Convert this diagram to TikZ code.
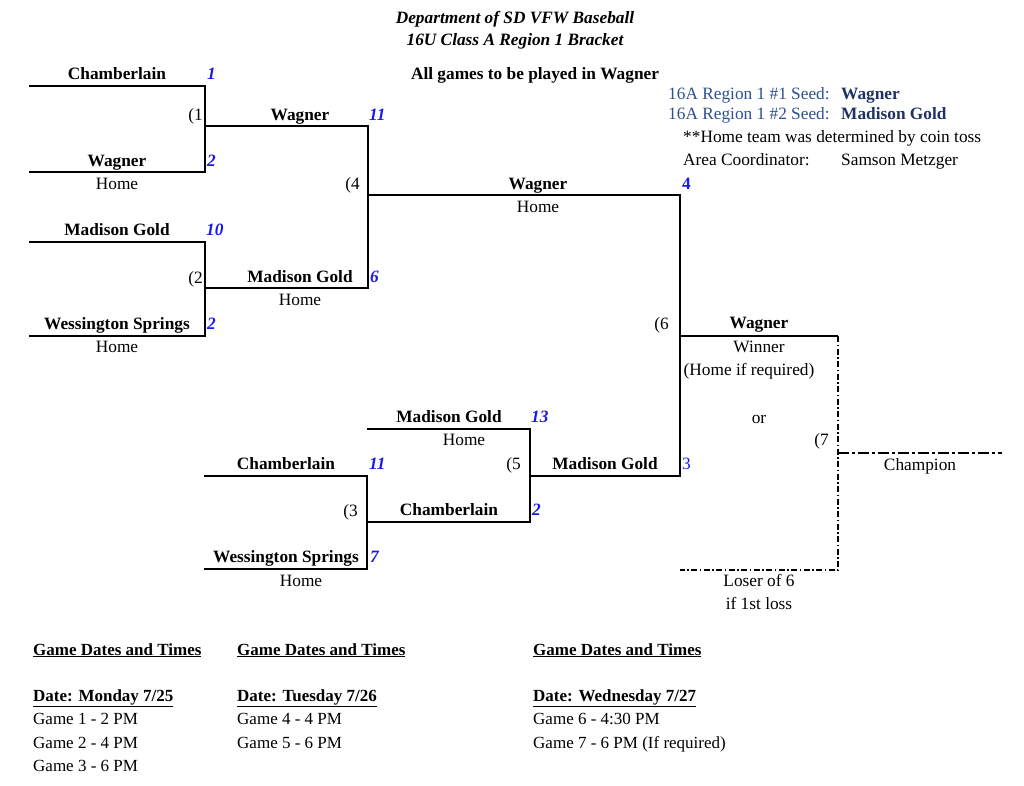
\documentclass[tikz,border=0pt]{standalone}
\usepackage{fontspec}
\setmainfont{Liberation Serif}
\definecolor{numblue}{RGB}{25,25,235}
\definecolor{seedblue}{RGB}{45,80,145}
\definecolor{navy}{RGB}{30,50,100}
\newcommand{\fsmain}{\fontsize{17.3}{19}\selectfont}
\newcommand{\fssched}{\fontsize{17}{19}\selectfont}
\begin{document}
\begin{tikzpicture}[x=1pt,y=-1pt,
  every node/.style={inner sep=0pt, anchor=base, font=\fsmain},
  team/.style={font=\fsmain\bfseries},
  score/.style={anchor=base west, text=numblue, font=\fsmain\bfseries\itshape},
  scoreup/.style={anchor=base west, text=numblue, font=\fsmain\bfseries},
  gamenum/.style={anchor=base east},
  info/.style={anchor=base west},
  sched/.style={anchor=base west, font=\fssched},
  schedh/.style={anchor=base west, font=\fssched\bfseries},
  br/.style={line width=1.2pt, line join=miter},
  win/.style={line width=2pt},
  dd/.style={line width=1.2pt, dash pattern=on 6pt off 2.5pt on 1.5pt off 2.5pt},
  ddthick/.style={line width=2.2pt, dash pattern=on 11pt off 3pt on 3pt off 3pt}
]
\useasboundingbox (0,0) rectangle (1024,785);

% title
\node[font=\fsmain\bfseries\itshape] (title1) at (515,23) {Department of SD VFW Baseball};
\node[font=\fsmain\bfseries\itshape] (title2) at (515,45) {16U Class A Region 1 Bracket};
\node[team] (allgames) at (535,79) {All games to be played in Wagner};

% info
\node[info, text=seedblue] (seed1) at (668,99) {16A Region 1 \#1 Seed:};
\node[info, text=navy, font=\fsmain\bfseries] (seed1t) at (841,99) {Wagner};
\node[info, text=seedblue] (seed2) at (668,119) {16A Region 1 \#2 Seed:};
\node[info, text=navy, font=\fsmain\bfseries] (seed2t) at (841,119) {Madison Gold};
\node[info] (coin) at (683,142) {**Home team was determined by coin toss};
\node[info] (coord) at (683,165) {Area Coordinator:};
\node[info] (coordn) at (841,165) {Samson Metzger};

% bracket coordinates
\coordinate (g1a) at (29,86);  \coordinate (g1b) at (205,86);
\coordinate (g1c) at (205,172); \coordinate (g1d) at (29,172);
\coordinate (g4a) at (205,126); \coordinate (g4b) at (368,126);
\coordinate (g4c) at (368,288); \coordinate (g4d) at (205,288);
\coordinate (g2a) at (29,242);  \coordinate (g2b) at (205,242);
\coordinate (g2c) at (205,336); \coordinate (g2d) at (29,336);
\coordinate (g6a) at (368,195); \coordinate (g6b) at (680,195);
\coordinate (g6c) at (680,476); \coordinate (g6d) at (530,476);
\coordinate (g5a) at (367,429); \coordinate (g5b) at (530,429);
\coordinate (g5c) at (530,522); \coordinate (g5d) at (367,522);
\coordinate (g3a) at (204,476); \coordinate (g3b) at (367,476);
\coordinate (g3c) at (367,569); \coordinate (g3d) at (204,569);
\coordinate (w6a) at (680,336); \coordinate (w6b) at (838,336);
\coordinate (g7b) at (838,570); \coordinate (g7c) at (680,570);
\coordinate (g7m) at (838,453); \coordinate (champ) at (1002,453);

\draw[br] (g1a) -- (g1b) -- (g1c) -- (g1d);
\draw[br] (g4a) -- (g4b) -- (g4c) -- (g4d);
\draw[br] (g2a) -- (g2b) -- (g2c) -- (g2d);
\draw[br] (g6a) -- (g6b) -- (g6c) -- (g6d);
\draw[br] (g5a) -- (g5b) -- (g5c) -- (g5d);
\draw[br] (g3a) -- (g3b) -- (g3c) -- (g3d);
\draw[win] (w6a) -- (w6b);
\draw[dd] (w6b) -- (g7b) -- (g7c);
\draw[ddthick] (g7m) -- (champ);

% game 1
\node[team] (t1) at (117,79) {Chamberlain};
\node[score] (s1) at (207,79) {1};
\node[gamenum] (n1) at (203,120) {(1};
\node[team] (t2) at (117,166) {Wagner};
\node[score] (s2) at (207,166) {2};
\node (h2) at (117,189) {Home};
% game 4 top
\node[team] (w1) at (300,120) {Wagner};
\node[score] (sw1) at (369,120) {11};
% game 2
\node[team] (t3) at (117,235) {Madison Gold};
\node[score] (s3) at (206,235) {10};
\node[gamenum] (n2) at (203,283) {(2};
\node[team] (t4) at (117,329) {Wessington Springs};
\node[score] (s4) at (207,329) {2};
\node (h4) at (117,352) {Home};
\node[team] (w2) at (300,282) {Madison Gold};
\node[score] (sw2) at (370,282) {6};
\node (hw2) at (300,305) {Home};
% game 4
\node[gamenum] (n4) at (360,189) {(4};
\node[team] (w4) at (538,189) {Wagner};
\node (hw4) at (538,212) {Home};
\node[scoreup] (sw4) at (682,189) {4};
% game 6
\node[gamenum] (n6) at (669,329) {(6};
\node[team] (w6) at (759,328) {Wagner};
\node (winner) at (759,352) {Winner};
\node (homereq) at (749,375) {(Home if required)};
\node (or) at (759,423) {or};
\node[gamenum] (n7) at (829,445) {(7};
\node (champion) at (920,470) {Champion};
\node (loser) at (759,586) {Loser of 6};
\node (first) at (759,609) {if 1st loss};
% game 5
\node[team] (t5) at (449,422) {Madison Gold};
\node[score] (s5) at (531,422) {13};
\node (h5) at (464,445) {Home};
\node[gamenum] (n5) at (521,469) {(5};
\node[team] (w5) at (605,469) {Madison Gold};
\node[scoreup, font=\fsmain] (sw5) at (682,469) {3};
\node[team] (t6) at (449,515) {Chamberlain};
\node[score] (s6) at (532,515) {2};
% game 3
\node[team] (t7) at (286,469) {Chamberlain};
\node[score] (s7) at (369,469) {11};
\node[gamenum] (n3) at (358,516) {(3};
\node[team] (t8) at (286,562) {Wessington Springs};
\node[score] (s8) at (370,562) {7};
\node (h8) at (301,586) {Home};

% schedule
\node[schedh] (sh1) at (33,655) {\underline{Game Dates and Times}};
\node[schedh] (sh2) at (237,655) {\underline{Game Dates and Times}};
\node[schedh] (sh3) at (533,655) {\underline{Game Dates and Times}};
\node[schedh] (d1) at (33,701) {\underline{Date: Monday 7/25}};
\node[schedh] (d2) at (237,701) {\underline{Date: Tuesday 7/26}};
\node[schedh] (d3) at (533,701) {\underline{Date: Wednesday 7/27}};
\node[sched] (ga1) at (33,724) {Game 1 - 2 PM};
\node[sched] (ga2) at (33,748) {Game 2 - 4 PM};
\node[sched] (ga3) at (33,771) {Game 3 - 6 PM};
\node[sched] (ga4) at (237,724) {Game 4 - 4 PM};
\node[sched] (ga5) at (237,748) {Game 5 - 6 PM};
\node[sched] (ga6) at (533,724) {Game 6 - 4:30 PM};
\node[sched] (ga7) at (533,748) {Game 7 - 6 PM (If required)};
\end{tikzpicture}
\end{document}
